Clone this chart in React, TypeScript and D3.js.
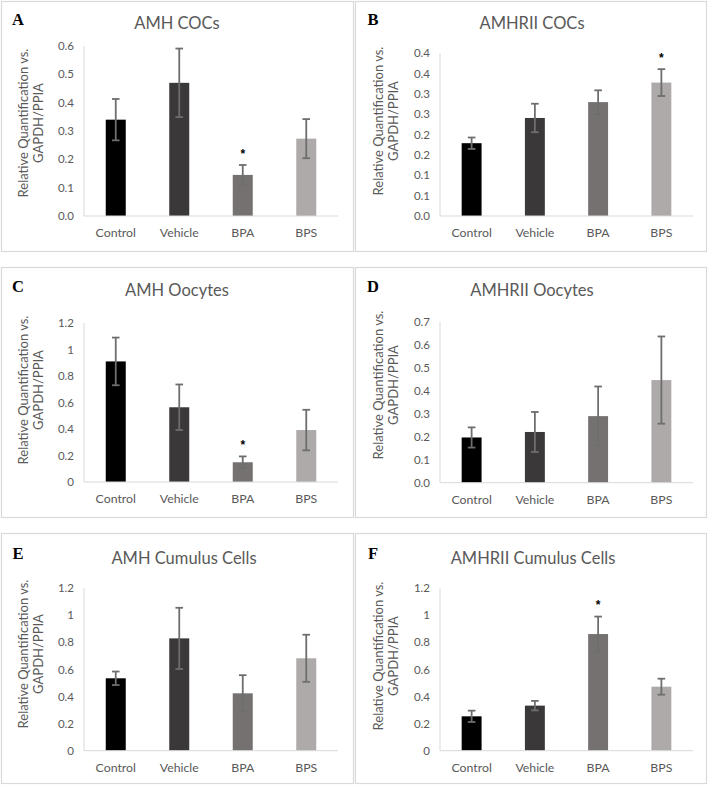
import React from "react";
import * as d3 from "d3";

const categories = ["Control", "Vehicle", "BPA", "BPS"];
const barColors = ["#000000", "#3a3838", "#767171", "#aeaaaa"];

// A: AMH COCs
const amhCocsMean = [0.34, 0.47, 0.145, 0.273];
const amhCocsErr = [0.073, 0.121, 0.035, 0.069];
const amhCocsTicks = [0, 0.1, 0.2, 0.3, 0.4, 0.5, 0.6];
const amhCocsTickLabels = ["0.0", "0.1", "0.2", "0.3", "0.4", "0.5", "0.6"];
const amhCocsSig = [2];

// B: AMHRII COCs
const amhr2CocsMean = [0.179, 0.241, 0.28, 0.328];
const amhr2CocsErr = [0.014, 0.035, 0.029, 0.033];
const amhr2CocsTicks = [0, 0.05, 0.1, 0.15, 0.2, 0.25, 0.3, 0.35, 0.4];
const amhr2CocsTickLabels = ["0.0", "0.1", "0.1", "0.2", "0.2", "0.3", "0.3", "0.4", "0.4"];
const amhr2CocsSig = [3];

// C: AMH Oocytes
const amhOocMean = [0.91, 0.564, 0.149, 0.392];
const amhOocErr = [0.18, 0.172, 0.044, 0.153];
const amhOocTicks = [0, 0.2, 0.4, 0.6, 0.8, 1, 1.2];
const amhOocTickLabels = ["0", "0.2", "0.4", "0.6", "0.8", "1", "1.2"];
const amhOocSig = [2];

// D: AMHRII Oocytes
const amhr2OocMean = [0.197, 0.221, 0.29, 0.447];
const amhr2OocErr = [0.044, 0.087, 0.129, 0.19];
const amhr2OocTicks = [0, 0.1, 0.2, 0.3, 0.4, 0.5, 0.6, 0.7];
const amhr2OocTickLabels = ["0.0", "0.1", "0.2", "0.3", "0.4", "0.5", "0.6", "0.7"];
const amhr2OocSig: number[] = [];

// E: AMH Cumulus Cells
const amhCumMean = [0.535, 0.83, 0.424, 0.683];
const amhCumErr = [0.05, 0.226, 0.134, 0.174];
const amhCumTicks = [0, 0.2, 0.4, 0.6, 0.8, 1, 1.2];
const amhCumTickLabels = ["0", "0.2", "0.4", "0.6", "0.8", "1", "1.2"];
const amhCumSig: number[] = [];

// F: AMHRII Cumulus Cells
const amhr2CumMean = [0.254, 0.333, 0.862, 0.473];
const amhr2CumErr = [0.042, 0.035, 0.129, 0.059];
const amhr2CumTicks = [0, 0.2, 0.4, 0.6, 0.8, 1, 1.2];
const amhr2CumTickLabels = ["0", "0.2", "0.4", "0.6", "0.8", "1", "1.2"];
const amhr2CumSig = [2];

const panels = [
  { letter: "A", title: "AMH COCs", mean: amhCocsMean, err: amhCocsErr, ticks: amhCocsTicks, tickLabels: amhCocsTickLabels, sig: amhCocsSig },
  { letter: "B", title: "AMHRII COCs", mean: amhr2CocsMean, err: amhr2CocsErr, ticks: amhr2CocsTicks, tickLabels: amhr2CocsTickLabels, sig: amhr2CocsSig },
  { letter: "C", title: "AMH Oocytes", mean: amhOocMean, err: amhOocErr, ticks: amhOocTicks, tickLabels: amhOocTickLabels, sig: amhOocSig },
  { letter: "D", title: "AMHRII Oocytes", mean: amhr2OocMean, err: amhr2OocErr, ticks: amhr2OocTicks, tickLabels: amhr2OocTickLabels, sig: amhr2OocSig },
  { letter: "E", title: "AMH Cumulus Cells", mean: amhCumMean, err: amhCumErr, ticks: amhCumTicks, tickLabels: amhCumTickLabels, sig: amhCumSig },
  { letter: "F", title: "AMHRII Cumulus Cells", mean: amhr2CumMean, err: amhr2CumErr, ticks: amhr2CumTicks, tickLabels: amhr2CumTickLabels, sig: amhr2CumSig },
];

// layout (local to each panel cell)
const layouts = [
  { ox: 0, oy: 0, frame: [1.5, 1.5, 353.5, 251.5], yTop: 46, yZero: 216, axisX: 84, axisRight: 338, letterY: 25, titleX: 177, titleY: 29, yTitleY: 123 },
  { ox: 355, oy: 0, frame: [0.5, 1.5, 351.5, 251.5], yTop: 53.3, yZero: 216, axisX: 85, axisRight: 338, letterY: 25, titleX: 177, titleY: 29, yTitleY: 121 },
  { ox: 0, oy: 262, frame: [1.5, 5.5, 353.5, 255.5], yTop: 61, yZero: 220, axisX: 84, axisRight: 338, letterY: 30, titleX: 177, titleY: 34, yTitleY: 128 },
  { ox: 355, oy: 262, frame: [0.5, 5.5, 351.5, 255.5], yTop: 60, yZero: 220.7, axisX: 85, axisRight: 338, letterY: 30, titleX: 177, titleY: 34, yTitleY: 123 },
  { ox: 0, oy: 524, frame: [1.5, 9.5, 353.5, 259.5], yTop: 64.3, yZero: 226.7, axisX: 84, axisRight: 338, letterY: 35, titleX: 184, titleY: 40, yTitleY: 130 },
  { ox: 355, oy: 524, frame: [0.5, 9.5, 351.5, 259.5], yTop: 64.3, yZero: 226.7, axisX: 85, axisRight: 338, letterY: 35, titleX: 178, titleY: 40, yTitleY: 132 },
];

const TEXT = "#595959";
const AXIS = "#d9d9d9";
const FRAME = "#d9d9d9";
const ERR = "#6e6e6e";
const FONT = "Lato, 'Open Sans', sans-serif";

function Panel({ p, l }: { p: (typeof panels)[number]; l: (typeof layouts)[number] }) {
  const maxTick = p.ticks[p.ticks.length - 1];
  const y = d3.scaleLinear().domain([0, maxTick]).range([l.yZero, l.yTop]);
  const x = d3
    .scaleBand<string>()
    .domain(categories)
    .range([l.axisX, l.axisRight])
    .paddingInner(0.685)
    .paddingOuter(0.3425);
  const [fx0, fy0, fx1, fy1] = l.frame;
  return (
    <g transform={`translate(${l.ox},${l.oy})`}>
      <rect x={fx0} y={fy0} width={fx1 - fx0} height={fy1 - fy0} fill="#fff" stroke={FRAME} strokeWidth={1.2} />
      <text x={18} y={l.letterY} fontFamily="'Liberation Serif', 'Times New Roman', serif" fontWeight="bold" fontSize={16.5} fill="#000" textAnchor="middle">
        {p.letter}
      </text>
      <text x={l.titleX} y={l.titleY} fontFamily={FONT} fontSize={16.5} fill={TEXT} textAnchor="middle">
        {p.title}
      </text>
      <g fontFamily={FONT} fontSize={13} fill={TEXT} textAnchor="middle">
        <text transform={`translate(27.5,${l.yTitleY}) rotate(-90)`}>Relative Quantification vs.</text>
        <text transform={`translate(43,${l.yTitleY}) rotate(-90)`}>GAPDH/PPIA</text>
      </g>
      <line x1={l.axisX} x2={l.axisX} y1={l.yTop} y2={l.yZero} stroke={AXIS} strokeWidth={1} />
      {p.ticks.map((t, i) => (
        <text key={i} x={l.axisX - 10} y={y(t)} dy="0.35em" fontFamily={FONT} fontSize={11.5} fill={TEXT} textAnchor="end">
          {p.tickLabels[i]}
        </text>
      ))}
      {categories.map((c, i) => {
        const bx = x(c)!;
        const bw = x.bandwidth();
        const cx = bx + bw / 2;
        const v = p.mean[i];
        const e = p.err[i];
        return (
          <g key={c}>
            <rect x={bx} y={y(v)} width={bw} height={l.yZero - y(v)} fill={barColors[i]} />
            <line x1={cx} x2={cx} y1={y(v + e)} y2={y(v - e)} stroke={ERR} strokeWidth={1.8} />
            <line x1={cx - 3.8} x2={cx + 3.8} y1={y(v + e)} y2={y(v + e)} stroke={ERR} strokeWidth={1.8} />
            <line x1={cx - 3.8} x2={cx + 3.8} y1={y(v - e)} y2={y(v - e)} stroke={ERR} strokeWidth={1.8} />
            {p.sig.includes(i) && (
              <text x={cx} y={y(v + e) - 14 + 6.5} fontFamily="'Liberation Sans', Arial, sans-serif" fontWeight="bold" fontSize={12} fill="#000" textAnchor="middle">
                *
              </text>
            )}
            <text x={cx} y={l.yZero + 21} fontFamily={FONT} fontSize={12.3} fill={TEXT} textAnchor="middle">
              {c}
            </text>
          </g>
        );
      })}
      <line x1={l.axisX} x2={l.axisRight} y1={l.yZero} y2={l.yZero} stroke={AXIS} strokeWidth={1} />
    </g>
  );
}

export default function App() {
  return (
    <svg width={710} height={786} style={{ position: "absolute", left: 0, top: 0, background: "#fff" }}>
      <rect width={710} height={786} fill="#fff" />
      {panels.map((p, i) => (
        <Panel key={p.letter} p={p} l={layouts[i]} />
      ))}
    </svg>
  );
}
